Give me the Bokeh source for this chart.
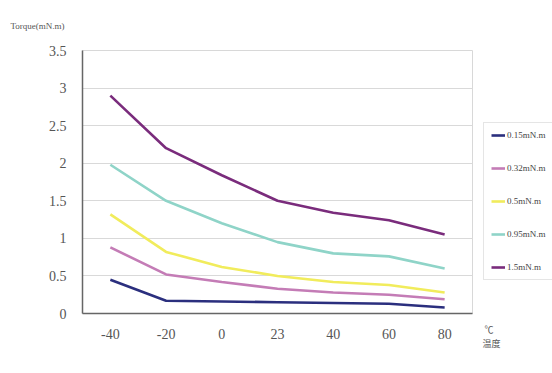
from bokeh.plotting import figure
from bokeh.models import Range1d, FixedTicker, Legend, LegendItem, Title
from bokeh.embed import file_html
from bokeh.resources import INLINE

temps = ["-40", "-20", "0", "23", "40", "60", "80"]
y_ticks = [0, 0.5, 1, 1.5, 2, 2.5, 3, 3.5]
y_tick_labels = ["0", "0.5", "1", "1.5", "2", "2.5", "3", "3.5"]

s_015 = [0.45, 0.17, 0.16, 0.15, 0.14, 0.13, 0.08]
s_032 = [0.88, 0.52, 0.42, 0.33, 0.28, 0.25, 0.19]
s_05 = [1.32, 0.82, 0.62, 0.50, 0.42, 0.38, 0.28]
s_095 = [1.98, 1.50, 1.20, 0.95, 0.80, 0.76, 0.60]
s_15 = [2.90, 2.20, 1.84, 1.50, 1.34, 1.24, 1.05]

series_names = ["0.15mN.m", "0.32mN.m", "0.5mN.m", "0.95mN.m", "1.5mN.m"]
series_vals = [s_015, s_032, s_05, s_095, s_15]
colors = ["#2b2f7e", "#c47cb6", "#f1ec5c", "#8fd4c8", "#7a2c7c"]

FONT = "Liberation Serif"

p = figure(frame_width=390, frame_height=263, output_backend="svg", toolbar_location=None,
           x_range=Range1d(0, 7), y_range=Range1d(0, 3.5),
           min_border_left=82, min_border_right=0, min_border_top=50, min_border_bottom=40)
p.background_fill_color = "white"
p.border_fill_color = "white"
p.outline_line_color = "#d8d8d8"

xs = [i + 0.5 for i in range(len(temps))]
renderers = []
for name, vals, c in zip(series_names, series_vals, colors):
    r = p.line(xs, vals, line_color=c, line_width=2.6)
    renderers.append(r)

p.xaxis.ticker = FixedTicker(ticks=xs)
p.xaxis.major_label_overrides = {x: t for x, t in zip(xs, temps)}
p.yaxis.ticker = FixedTicker(ticks=y_ticks)
p.yaxis.major_label_overrides = {v: l for v, l in zip(y_ticks, y_tick_labels)}

for ax in (p.xaxis, p.yaxis):
    ax.axis_line_color = "#666666"
    ax.axis_line_width = 1.5
    ax.major_tick_line_color = None
    ax.minor_tick_line_color = None
    ax.major_label_text_font = FONT
    ax.major_label_text_font_size = "14px"
    ax.major_label_text_color = "#555555"
p.xaxis.major_label_standoff = 9
p.yaxis.major_label_standoff = 10

p.xgrid.grid_line_color = None
p.ygrid.grid_line_color = "#d9d9d9"
p.ygrid.grid_line_width = 1

legend = Legend(items=[LegendItem(label=n, renderers=[r]) for n, r in zip(series_names, renderers)],
                location=(11, 33))
legend.label_text_font = FONT
legend.label_text_font_size = "9px"
legend.label_text_color = "#444444"
legend.glyph_width = 14
legend.glyph_height = 10
legend.spacing = 23
legend.padding = 7
legend.margin = 6
legend.label_standoff = 2
legend.border_line_color = "#cccccc"
legend.background_fill_color = "white"
legend.background_fill_alpha = 1
p.add_layout(legend, "right")

p.add_layout(Title(text="Torque(mN.m)", align="left", offset=-72, standoff=36, vertical_align="top",
                   text_font=FONT, text_font_size="9px", text_color="#555555",
                   text_font_style="normal"), "above")
p.add_layout(Title(text="℃", align="right", offset=-21, standoff=-38, vertical_align="top",
                   text_font="Noto Sans CJK SC", text_font_size="9px", text_color="#555555",
                   text_font_style="normal"), "below")
p.add_layout(Title(text="温度", align="right", offset=-28, standoff=-10, vertical_align="top",
                   text_font="Noto Sans CJK SC", text_font_size="9px", text_color="#555555",
                   text_font_style="normal"), "below")

open("out.html", "w").write(file_html(p, INLINE))
